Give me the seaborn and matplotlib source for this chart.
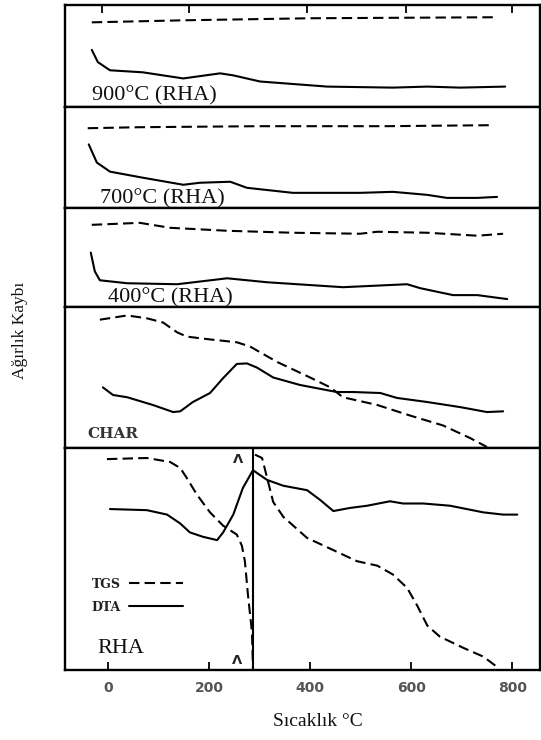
import numpy as np
import pandas as pd
import matplotlib
matplotlib.use("Agg")
import matplotlib.pyplot as plt
import seaborn as sns

sns.set_style("white")
plt.rcParams['font.family'] = ['Liberation Serif', 'DejaVu Serif']

# ---------------- data (temperature °C, relative signal 0..100 within each panel)
p900_tgs_t = [-32, 150, 400, 770]
p900_tgs_v = [83, 85, 87, 88]
p900_dta_t = [-32, -20, 4, 69, 149, 222, 248, 301, 434, 564, 632, 697, 786]
p900_dta_v = [56, 44, 36, 34, 28, 33, 31, 25, 20, 19, 20, 19, 20]

p700_tgs_t = [-40, 63, 300, 550, 762]
p700_tgs_v = [79, 80, 81, 81, 82]
p700_dta_t = [-38, -22, 4, 69, 149, 182, 242, 275, 366, 499, 564, 632, 671, 731, 770]
p700_dta_v = [63, 45, 36, 30, 23, 25, 26, 20, 15, 15, 16, 13, 10, 10, 11]

p400_tgs_t = [-32, 63, 123, 236, 366, 499, 533, 632, 731, 782]
p400_tgs_v = [83, 85, 80, 77, 75, 74, 76, 75, 72, 74]
p400_dta_t = [-34, -26, -16, 38, 137, 236, 315, 465, 592, 618, 683, 731, 790]
p400_dta_v = [55, 36, 27, 24, 23, 29, 25, 20, 23, 19, 12, 12, 8]

char_tgs_t = [-16, 38, 77, 109, 137, 156, 202, 255, 281, 335, 400, 440, 465, 533, 598, 663, 717, 750]
char_tgs_v = [91, 94, 92, 89, 82, 79, 77, 75, 72, 61, 50, 43, 36, 30.5, 23, 16, 7, 0.7]
char_dta_t = [-10, 10, 38, 89, 129, 143, 168, 202, 228, 255, 275, 295, 327, 380, 453, 485, 539, 572, 632, 697, 750, 782]
char_dta_v = [43, 37.6, 36, 30.5, 25.5, 26, 32.6, 39, 49.6, 59.6, 60, 57, 50, 44.7, 39.7, 39.7, 39, 35.5, 32.6, 29, 25.5, 26]

rha_tgs_a_t = [-2, 77, 123, 143, 156, 176, 202, 228, 255, 265, 271, 277, 285, 287]
rha_tgs_a_v = [95, 95.5, 93.7, 91, 86.5, 79, 71, 65, 61, 56, 49, 34, 17, 1]
rha_tgs_b_t = [291, 305, 315, 327, 347, 394, 446, 493, 533, 564, 592, 612, 632, 657, 703, 743, 770]
rha_tgs_b_v = [97, 95.5, 86.5, 75.7, 69, 59.5, 54, 49, 47, 43, 37, 29, 20, 15, 10, 6, 1.4]
rha_dta_t = [4, 77, 117, 143, 162, 188, 216, 228, 248, 267, 287, 315, 347, 394, 420, 446, 479, 513, 558, 584, 624, 677, 743, 782, 810]
rha_dta_v = [72.5, 72, 70, 66, 62, 60, 58.5, 62, 70, 82, 90, 85.6, 83, 81, 76.6, 71.6, 73, 74, 76, 75, 75, 74, 71, 70, 70]
rha_peak_temp = 287
rha_marks_t = [257, 255]

panel_labels = ["900°C (RHA)", "700°C (RHA)", "400°C (RHA)", "CHAR", "RHA"]
bottom_ticks = [0, 200, 400, 600, 800]
top_ticks = [-12, 160, 394, 590, 800]

# ---------------- layout
W, H = 541, 740
fig = plt.figure(figsize=(W / 100, H / 100), dpi=100)
left_px, right_px = 65, 540
bounds = [5, 107, 208, 307, 448, 670]
xlim = (-85, 855)

lw = 1.5
dash = (0, (5, 2.5))

series = [
    [(p900_tgs_t, p900_tgs_v, "--"), (p900_dta_t, p900_dta_v, "-")],
    [(p700_tgs_t, p700_tgs_v, "--"), (p700_dta_t, p700_dta_v, "-")],
    [(p400_tgs_t, p400_tgs_v, "--"), (p400_dta_t, p400_dta_v, "-")],
    [(char_tgs_t, char_tgs_v, "--"), (char_dta_t, char_dta_v, "-")],
]

label_pos = [(0.057, 0.059), (0.074, 0.045), (0.091, 0.045), (0.048, 0.071), (0.069, 0.077)]

for i in range(5):
    top, bot = bounds[i], bounds[i + 1]
    ax = fig.add_axes([left_px / W, 1 - bot / H, (right_px - left_px) / W, (bot - top) / H])
    ax.set_xlim(*xlim)
    ax.set_ylim(0, 100)
    for s in ax.spines.values():
        s.set_color("black")
        s.set_linewidth(1.7)
    ax.set_yticks([])
    if i < 4:
        for t, v, st in series[i]:
            df = pd.DataFrame({"T": t, "V": v})
            sns.lineplot(data=df, x="T", y="V", ax=ax, color="black", lw=lw,
                         linestyle=dash if st == "--" else "-",
                         sort=False, estimator=None)
    else:
        df = pd.DataFrame({"T": rha_tgs_a_t, "V": rha_tgs_a_v})
        sns.lineplot(data=df, x="T", y="V", ax=ax, color="black", lw=lw,
                     linestyle=dash, sort=False, estimator=None, label="TGS")
        df = pd.DataFrame({"T": rha_tgs_b_t, "V": rha_tgs_b_v})
        sns.lineplot(data=df, x="T", y="V", ax=ax, color="black", lw=lw,
                     linestyle=dash, sort=False, estimator=None)
        df = pd.DataFrame({"T": rha_dta_t, "V": rha_dta_v})
        sns.lineplot(data=df, x="T", y="V", ax=ax, color="black", lw=lw,
                     linestyle="-", sort=False, estimator=None, label="DTA")
        ax.axvline(rha_peak_temp, color="black", lw=1.5)
        for t, yf in zip(rha_marks_t, [0.95, 0.045]):
            ax.annotate("Λ", xy=(t, yf), xycoords=("data", "axes fraction"),
                        ha="center", va="center", fontsize=9.5, fontweight="bold",
                        family=["DejaVu Sans"], color="#222")
        leg = ax.legend(loc="center left", bbox_to_anchor=(0.055, 0.335),
                        frameon=False, markerfirst=False, handlelength=4.3,
                        handletextpad=0.7, borderpad=0, borderaxespad=0,
                        labelspacing=0.8,
                        prop={"family": "DejaVu Serif", "weight": "bold", "size": 9})
        for txt in leg.get_texts():
            txt.set_color("#222")
    ax.set_xlabel("")
    ax.set_ylabel("")

    lx, ly = label_pos[i]
    if panel_labels[i] == "CHAR":
        ax.text(lx, ly, panel_labels[i], transform=ax.transAxes, ha="left", va="baseline",
                fontsize=11, fontweight="bold", family=["DejaVu Serif"], color="#333")
    else:
        ax.text(lx, ly, panel_labels[i], transform=ax.transAxes, ha="left", va="baseline",
                fontsize=16, color="#111")

    if i == 0:
        ax.xaxis.set_ticks_position("top")
        ax.set_xticks(top_ticks)
        ax.tick_params(axis="x", which="both", direction="in", length=6, width=1.3,
                       top=True, bottom=False, labeltop=False, labelbottom=False, color="black")
    elif i == 4:
        ax.set_xticks(bottom_ticks)
        ax.set_xticklabels([str(t) for t in bottom_ticks])
        ax.tick_params(axis="x", which="both", direction="in", length=6, width=1.3,
                       bottom=True, top=False, pad=8, labelsize=10, labelcolor="#555",
                       color="black")
        for lbl in ax.get_xticklabels():
            lbl.set_fontfamily("DejaVu Sans")
            lbl.set_fontweight("bold")
    else:
        ax.set_xticks([])

fig.text(318 / W, 1 - 722 / H, "Sıcaklık °C", ha="center", va="center", fontsize=14, color="#111")
fig.text(20 / W, 1 - 330 / H, "Ağırlık Kaybı", ha="center", va="center", rotation=90,
         fontsize=12.5, color="#111")

fig.savefig("out.png", dpi=100)
